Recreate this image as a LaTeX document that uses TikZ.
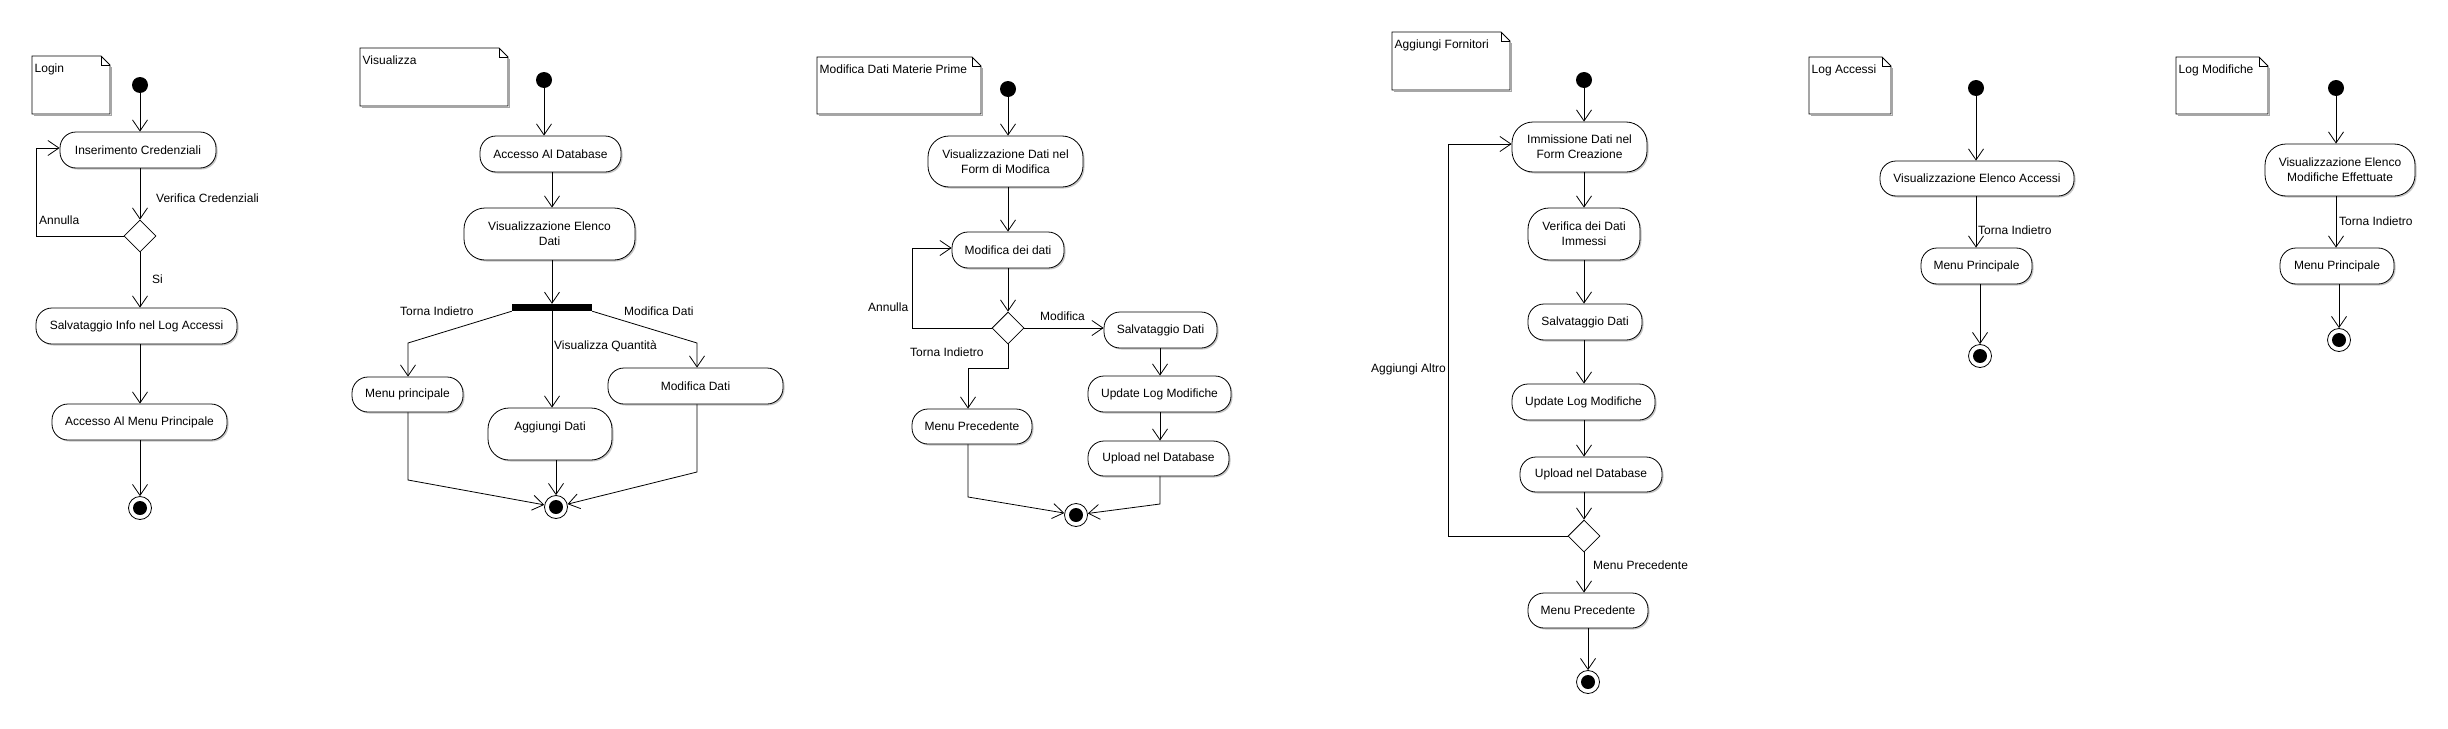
\documentclass[tikz,border=0pt]{standalone}
\usepackage{fontspec}
\setmainfont{Liberation Sans}
\usetikzlibrary{arrows.meta,shadows,shapes.geometric,calc}
\tikzset{
  txt/.style={font=\fontsize{12}{15}\selectfont},
  sz/.style 2 args={minimum width=#1, minimum height=#2},
  act/.style={draw, line width=0.8pt, fill=white, rounded corners=16pt, inner sep=0pt, align=center, txt,
    drop shadow={shadow xshift=1.5pt, shadow yshift=-1.5pt, fill=black!45, opacity=0.5}},
  tall/.style={rounded corners=21pt},
  startnode/.style={circle, fill=black, minimum size=16pt, inner sep=0pt},
  finalnode/.style={circle, draw, line width=0.8pt, fill=white, minimum size=23pt, inner sep=0pt,
    path picture={\fill[black] (path picture bounding box.center) circle[radius=7pt];}},
  decision/.style={diamond, draw, line width=0.8pt, fill=white, minimum width=32pt, minimum height=32pt, inner sep=0pt},
  forkbar/.style={fill=black, minimum width=80pt, minimum height=7pt, inner sep=0pt},
  lbl/.style={txt, inner sep=0pt, anchor=west, text height=9pt, text depth=2.5pt},
  notetext/.style={txt, inner sep=0pt, anchor=base west},
  flow/.style={draw, line width=0.8pt, -{Straight Barb[length=11pt,width=15pt,line width=0.8pt]}},
  noteline/.style={draw, line width=0.8pt},
}
\newcommand\umlnote[6]{%
  \draw[black!35, line width=1.2pt] (#2+2,#5+1.2) -- (#4+1.2,#5+1.2) -- (#4+1.2,#3+11);
  \draw[noteline, fill=white] (#2,#3) -- (#4-9,#3) -- (#4,#3+9) -- (#4,#5) -- (#2,#5) -- cycle;
  \draw[noteline] (#4-9,#3) -- (#4-9,#3+9) -- (#4,#3+9);
  \node[notetext] (#1) at (#2+2.5,#3+16) {#6};
}
\begin{document}
\begin{tikzpicture}[x=1pt,y=-1pt]
\useasboundingbox (0,0) rectangle (2448,728);

% ---------------- Login ----------------
\umlnote{n1}{32}{56}{110}{114}{Login}
\node[startnode] (s1) at (140,85) {};
\node[act, sz={156pt}{36pt}] (i1) at (138,150) {Inserimento Credenziali};
\node[decision] (d1) at (140,236) {};
\node[act, sz={201pt}{36pt}] (sa1) at (136.5,326) {Salvataggio Info nel Log Accessi};
\node[act, sz={175pt}{36pt}] (ac1) at (139.5,422) {Accesso Al Menu Principale};
\node[finalnode] (e1) at (140,508) {};
\coordinate (k1) at (36,148);
\draw[flow] (s1) -- (s1 |- i1.north);
\draw[flow] (d1 |- i1.south) -- (d1.north);
\draw[flow] (d1.west) -| (k1) -- (i1.west |- k1);
\draw[flow] (d1.south) -- (d1 |- sa1.north);
\draw[flow] (d1 |- sa1.south) -- (d1 |- ac1.north);
\draw[flow] (d1 |- ac1.south) -- (e1);
\node[lbl] (l1a) at (156,199) {Verifica Credenziali};
\node[lbl] (l1b) at (39,221) {Annulla};
\node[lbl] (l1c) at (152,280) {Si};

% ---------------- Visualizza ----------------
\umlnote{n2}{360}{48}{508}{106}{Visualizza}
\node[startnode] (s2) at (544,80) {};
\node[act, sz={141pt}{36pt}] (a2) at (550.5,154) {Accesso Al Database};
\node[act, tall, sz={171pt}{52pt}] (v2) at (549.5,234) {Visualizzazione Elenco\\Dati};
\node[forkbar] (b2) at (552,307.5) {};
\node[act, sz={111pt}{35pt}] (m2) at (407.5,394.5) {Menu principale};
\node[act, tall, sz={124pt}{52pt}] (g2) at (550,434) {Aggiungi Dati\\\mbox{}};
\node[act, sz={175pt}{36pt}] (md2) at (695.5,386) {Modifica Dati};
\node[finalnode] (e2) at (556,507) {};
\coordinate (k2a) at (408,343);
\coordinate (k2b) at (697,343);
\coordinate (k2c) at (408,480);
\coordinate (k2d) at (697,472);
\draw[flow] (s2) -- (s2 |- a2.north);
\draw[flow] (b2 |- a2.south) -- (b2 |- v2.north);
\draw[flow] (b2 |- v2.south) -- (b2.north);
\draw[flow] (b2.south west) -- (k2a) -- (k2a |- m2.north);
\draw[flow] (b2.south) -- (b2 |- g2.north);
\draw[flow] (b2.south east) -- (k2b) -- (k2b |- md2.north);
\draw[flow] (k2c |- m2.south) -- (k2c) -- (e2);
\draw[flow] (e2 |- g2.south) -- (e2);
\draw[flow] (k2d |- md2.south) -- (k2d) -- (e2);
\node[lbl] (l2a) at (400,312) {Torna Indietro};
\node[lbl] (l2b) at (554,346) {Visualizza Quantità};
\node[lbl] (l2c) at (624,312) {Modifica Dati};

% ---------------- Modifica Dati Materie Prime ----------------
\umlnote{n3}{817}{57}{981}{114}{Modifica Dati Materie Prime}
\node[startnode] (s3) at (1008,89) {};
\node[act, tall, sz={155pt}{51pt}] (v3) at (1005.5,161.5) {Visualizzazione Dati nel\\Form di Modifica};
\node[act, sz={112pt}{36pt}] (md3) at (1008,250) {Modifica dei dati};
\node[decision] (d3) at (1008,328) {};
\node[act, sz={113pt}{36pt}] (sd3) at (1160.5,330) {Salvataggio Dati};
\node[act, sz={120pt}{35pt}] (mp3) at (972,426.5) {Menu Precedente};
\node[act, sz={143pt}{36pt}] (ul3) at (1159.5,394) {Update Log Modifiche};
\node[act, sz={141pt}{35pt}] (up3) at (1158.5,458.5) {Upload nel Database};
\node[finalnode] (e3) at (1076,515) {};
\coordinate (k3a) at (912,248);
\coordinate (k3b) at (1008,368);
\coordinate (k3c) at (968,368);
\coordinate (k3e) at (968,497);
\coordinate (k3f) at (1160,504);
\draw[flow] (s3) -- (s3 |- v3.north);
\draw[flow] (d3 |- v3.south) -- (d3 |- md3.north);
\draw[flow] (d3 |- md3.south) -- (d3.north);
\draw[flow] (d3.west) -| (k3a) -- (md3.west |- k3a);
\draw[flow] (d3.east) -- (sd3.west |- d3);
\draw[flow] (d3.south) -- (k3b) -- (k3c) -- (k3c |- mp3.north);
\draw[flow] (k3f |- sd3.south) -- (k3f |- ul3.north);
\draw[flow] (k3f |- ul3.south) -- (k3f |- up3.north);
\draw[flow] (k3c |- mp3.south) -- (k3e) -- (e3);
\draw[flow] (k3f |- up3.south) -- (k3f) -- (e3);
\node[lbl] (l3a) at (868,308) {Annulla};
\node[lbl] (l3b) at (1040,317) {Modifica};
\node[lbl] (l3c) at (910,353) {Torna Indietro};

% ---------------- Aggiungi Fornitori ----------------
\umlnote{n4}{1392}{32}{1510}{90}{Aggiungi Fornitori}
\node[startnode] (s4) at (1584,80) {};
\node[act, tall, sz={135pt}{50pt}] (im4) at (1579.5,147) {Immissione Dati nel\\Form Creazione};
\node[act, tall, sz={112pt}{52pt}] (ve4) at (1584,234) {Verifica dei Dati\\Immessi};
\node[act, sz={114pt}{36pt}] (sa4) at (1585,322) {Salvataggio Dati};
\node[act, sz={143pt}{36pt}] (ul4) at (1583.5,402) {Update Log Modifiche};
\node[act, sz={142pt}{35pt}] (up4) at (1591,474.5) {Upload nel Database};
\node[decision] (d4) at (1584,536) {};
\node[act, sz={120pt}{35pt}] (mp4) at (1588,610.5) {Menu Precedente};
\node[finalnode] (e4) at (1588,682) {};
\coordinate (k4) at (1448,144);
\draw[flow] (s4) -- (s4 |- im4.north);
\draw[flow] (s4 |- im4.south) -- (s4 |- ve4.north);
\draw[flow] (s4 |- ve4.south) -- (s4 |- sa4.north);
\draw[flow] (s4 |- sa4.south) -- (s4 |- ul4.north);
\draw[flow] (s4 |- ul4.south) -- (s4 |- up4.north);
\draw[flow] (s4 |- up4.south) -- (d4.north);
\draw[flow] (d4.west) -| (k4) -- (im4.west |- k4);
\draw[flow] (d4.south) -- (d4 |- mp4.north);
\draw[flow] (mp4.south) -- (e4);
\node[lbl] (l4a) at (1371,369) {Aggiungi Altro};
\node[lbl] (l4b) at (1593,566) {Menu Precedente};

% ---------------- Log Accessi ----------------
\umlnote{n5}{1809}{57}{1891}{114}{Log Accessi}
\node[startnode] (s5) at (1976,88) {};
\node[act, sz={194pt}{35pt}] (va5) at (1977,178.5) {Visualizzazione Elenco Accessi};
\node[act, sz={111pt}{36pt}] (mp5) at (1976.5,266) {Menu Principale};
\node[finalnode] (e5) at (1980,356) {};
\draw[flow] (s5) -- (s5 |- va5.north);
\draw[flow] (s5 |- va5.south) -- (s5 |- mp5.north);
\draw[flow] (e5 |- mp5.south) -- (e5);
\node[lbl] (l5a) at (1978,231) {Torna Indietro};

% ---------------- Log Modifiche ----------------
\umlnote{n6}{2176}{57}{2268}{114}{Log Modifiche}
\node[startnode] (s6) at (2336,88) {};
\node[act, tall, sz={150pt}{52pt}] (vm6) at (2340,170) {Visualizzazione Elenco\\Modifiche Effettuate};
\node[act, sz={114pt}{36pt}] (mp6) at (2337,266) {Menu Principale};
\node[finalnode] (e6) at (2339,340) {};
\draw[flow] (s6) -- (s6 |- vm6.north);
\draw[flow] (s6 |- vm6.south) -- (s6 |- mp6.north);
\draw[flow] (e6 |- mp6.south) -- (e6);
\node[lbl] (l6a) at (2339,222) {Torna Indietro};
\end{tikzpicture}
\end{document}
